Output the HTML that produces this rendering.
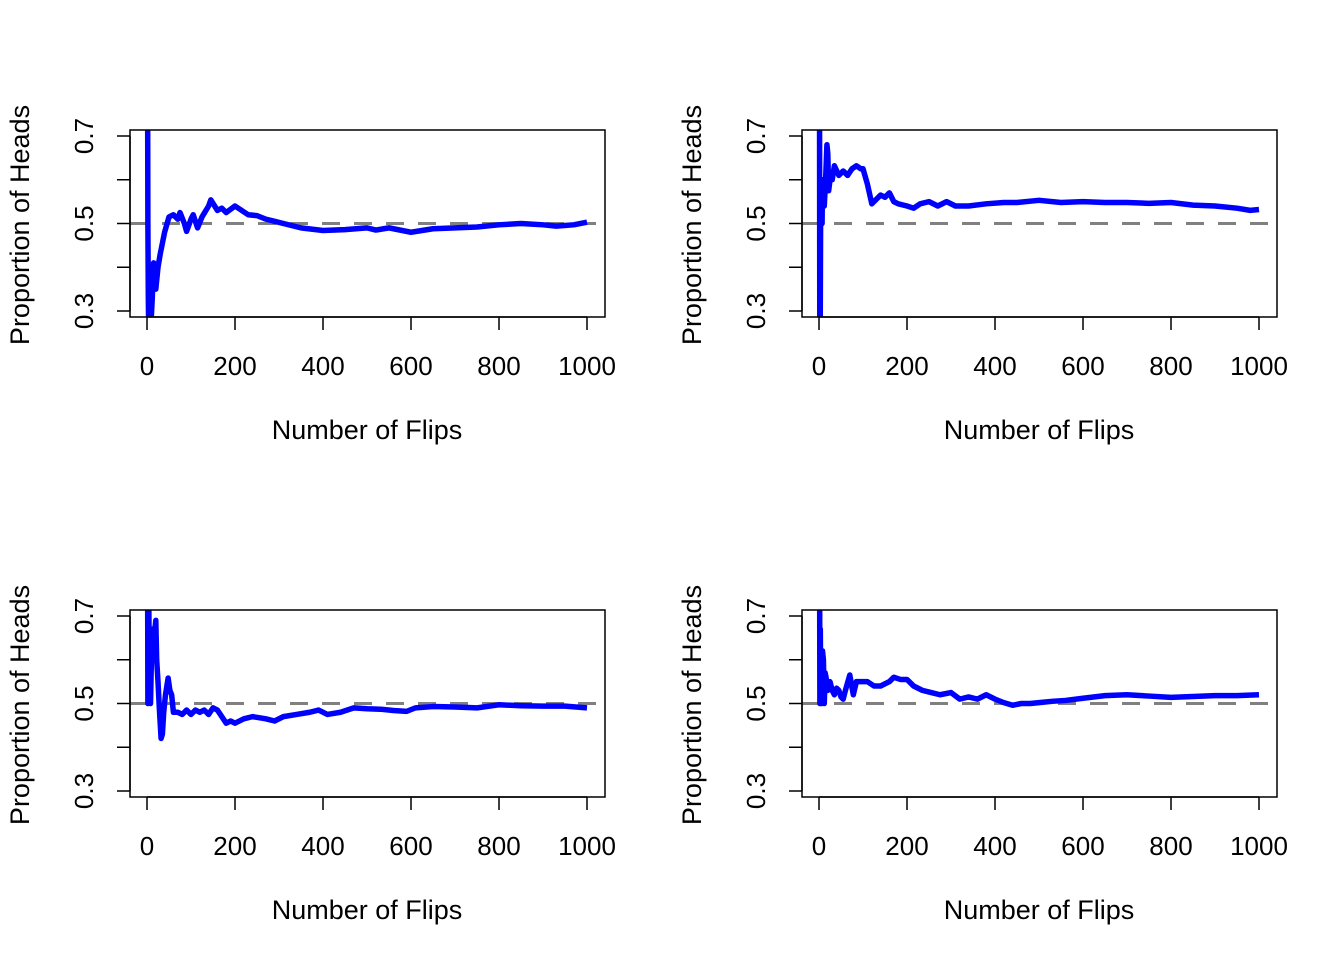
<!DOCTYPE html>
<html><head><meta charset="utf-8"><style>
html,body{margin:0;padding:0;background:#fff;}
svg{display:block;font-family:"Liberation Sans",Arial,sans-serif;}
</style></head><body>
<svg id="chart" width="1344" height="960" viewBox="0 0 1344 960" xmlns="http://www.w3.org/2000/svg"></svg>
<script>
const xTicks = [0,200,400,600,800,1000];
const yTicks = [0.3,0.4,0.5,0.6,0.7];
const yTickLabels = ["0.3","0.5","0.7"];
const refValue = 0.5;
const flips1 = [1,2,3,4,5,8,12,15,20,25,30,40,50,60,70,75,85,90,100,105,115,125,140,145,160,170,180,200,215,230,250,270,290,310,350,400,450,500,520,550,600,650,700,750,800,850,900,930,970,1000];
const props1 = [1,0.5,0.33,0.25,0.2,0.25,0.33,0.41,0.35,0.4,0.43,0.48,0.515,0.52,0.51,0.525,0.5,0.482,0.51,0.52,0.49,0.515,0.54,0.554,0.53,0.535,0.525,0.54,0.53,0.52,0.518,0.51,0.505,0.5,0.49,0.484,0.486,0.49,0.485,0.49,0.48,0.488,0.49,0.492,0.497,0.5,0.497,0.494,0.497,0.503];
const flips2 = [1,2,3,4,5,6,7,8,10,12,15,18,20,22,25,30,35,45,55,65,75,85,95,100,110,120,130,140,150,160,170,180,200,215,230,250,270,290,310,340,380,420,450,500,550,600,650,700,750,800,850,900,950,980,1000];
const props2 = [1,0,0.33,0.6,0.5,0.57,0.5,0.6,0.6,0.54,0.6,0.68,0.66,0.575,0.6,0.6,0.632,0.61,0.62,0.61,0.625,0.632,0.625,0.625,0.59,0.545,0.555,0.565,0.56,0.57,0.55,0.545,0.54,0.535,0.545,0.55,0.54,0.55,0.54,0.54,0.545,0.548,0.548,0.553,0.548,0.55,0.548,0.548,0.546,0.548,0.542,0.54,0.535,0.53,0.532];
const flips3 = [1,2,3,4,5,6,7,8,10,12,15,18,20,22,25,28,32,35,38,42,48,52,56,60,70,80,90,100,110,120,130,140,150,160,170,180,190,200,220,240,270,290,310,340,370,390,410,440,470,500,530,560,590,610,650,700,750,800,850,900,950,1000];
const props3 = [1,0.5,0.67,0.75,0.6,0.67,0.57,0.5,0.6,0.67,0.6,0.67,0.69,0.6,0.55,0.49,0.42,0.43,0.48,0.52,0.558,0.53,0.52,0.48,0.48,0.475,0.485,0.475,0.485,0.48,0.485,0.475,0.49,0.485,0.47,0.455,0.46,0.455,0.465,0.47,0.465,0.46,0.47,0.475,0.48,0.485,0.475,0.48,0.49,0.488,0.487,0.484,0.482,0.49,0.493,0.492,0.49,0.497,0.495,0.494,0.494,0.49];
const flips4 = [1,2,3,4,5,6,8,10,12,14,16,20,25,30,35,40,45,50,55,60,70,78,85,95,110,125,140,160,170,185,200,215,235,255,275,300,320,340,360,380,400,420,440,460,480,500,530,560,600,650,700,750,800,850,900,950,1000];
const props4 = [1,0.5,0.67,0.5,0.6,0.5,0.62,0.6,0.5,0.57,0.56,0.53,0.55,0.53,0.52,0.535,0.53,0.515,0.51,0.53,0.565,0.52,0.55,0.55,0.55,0.54,0.54,0.55,0.56,0.555,0.555,0.54,0.53,0.525,0.52,0.525,0.51,0.515,0.51,0.52,0.51,0.502,0.496,0.5,0.5,0.502,0.505,0.507,0.512,0.518,0.52,0.517,0.514,0.516,0.518,0.518,0.52];
const panels = [[flips1,props1,0,0],[flips2,props2,672,0],[flips3,props3,0,480],[flips4,props4,672,480]];

const NS = "http://www.w3.org/2000/svg";
const svg = document.getElementById('chart');
function mk(tag, attrs, parent){
  const e = document.createElementNS(NS, tag);
  for (const k in attrs) e.setAttribute(k, attrs[k]);
  (parent||svg).appendChild(e);
  return e;
}
panels.forEach((p, i) => {
  const [fx, py, ox, oy] = p;
  const g = mk('g', {transform: `translate(${ox},${oy})`});
  
  
  const sx = v => 147 + v * 0.44;
  const sy = v => 223.5 - (v - 0.5) * 437.5;
  const cid = 'clip' + i;
  const cp = mk('clipPath', {id: cid}, g);
  mk('rect', {x:130, y:130, width:475, height:187}, cp);
  const ref = mk('line', {x1:130, x2:605, y1:sy(refValue), y2:sy(refValue), stroke:'#808080', 'stroke-width':3, 'stroke-dasharray':'18,14'}, g);
  
  
  const pts = fx.map((f, k) => sx(f).toFixed(2) + ',' + sy(py[k]).toFixed(2)).join(' ');
  const line = mk('polyline', {points: pts, fill:'none', stroke:'#0000ff', 'stroke-width':5.5, 'stroke-linejoin':'round', 'clip-path':`url(#${cid})`}, g);
  
  
  const box = mk('rect', {x:130, y:130, width:475, height:187, fill:'none', stroke:'#000', 'stroke-width':1.5}, g);
  
  
  const xa = mk('g', {}, g);
  
  
  mk('line', {x1:sx(xTicks[0]), x2:sx(xTicks[xTicks.length-1]), y1:317, y2:317, stroke:'#000', 'stroke-width':1.5}, xa);
  xTicks.forEach(t => {
    mk('line', {x1:sx(t), x2:sx(t), y1:317, y2:330, stroke:'#000', 'stroke-width':1.5}, xa);
    const tx = mk('text', {x:sx(t), y:375, 'font-size':26, 'text-anchor':'middle'}, xa);
    tx.textContent = t;
    
    
  });
  const xt = mk('text', {x:367, y:439, 'font-size':27, 'text-anchor':'middle'}, g);
  xt.textContent = 'Number of Flips';
  
  
  const ya = mk('g', {}, g);
  
  
  mk('line', {x1:130, x2:130, y1:sy(yTicks[0]), y2:sy(yTicks[yTicks.length-1]), stroke:'#000', 'stroke-width':1.5}, ya);
  yTicks.forEach(t => {
    mk('line', {x1:117, x2:130, y1:sy(t), y2:sy(t), stroke:'#000', 'stroke-width':1.5}, ya);
  });
  yTickLabels.forEach(l => {
    const v = parseFloat(l);
    const tx = mk('text', {x:0, y:0, 'font-size':26, 'text-anchor':'middle', transform:`translate(93,${sy(v)}) rotate(-90)`}, ya);
    tx.textContent = l;
    
    
  });
  const yt = mk('text', {x:0, y:0, 'font-size':27, 'text-anchor':'middle', transform:'translate(29,225) rotate(-90)'}, g);
  yt.textContent = 'Proportion of Heads';
  
  
});
</script>
</body></html>
